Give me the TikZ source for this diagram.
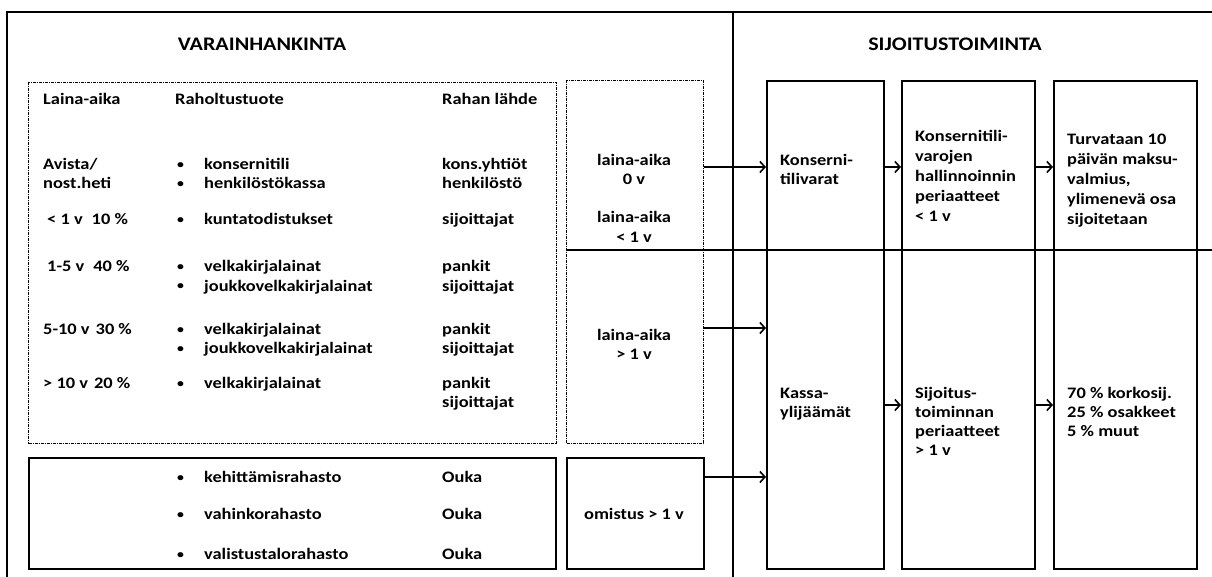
\documentclass[tikz,border=0pt]{standalone}
\usepackage{fontspec}
\setmainfont{Carlito}[FakeStretch=1.15]
\usetikzlibrary{arrows.meta}
\begin{document}
\begin{tikzpicture}[x=1pt,y=-1pt,
  frame/.style={line width=1.8pt},
  dbox/.style={draw,line width=1.3pt,dash pattern=on 3pt off 1pt on 1pt off 1pt,anchor=north west,inner sep=0pt},
  sbox/.style={draw,line width=2pt,anchor=north west,inner sep=0pt},
  arr/.style={line width=1.8pt,-{Straight Barb[length=5pt,width=11pt,line width=1.6pt]}},
  tx/.style={anchor=base west,inner sep=0pt,font=\bfseries\fontsize{16}{19}\selectfont},
  tc/.style={anchor=base,inner sep=0pt,font=\bfseries\fontsize{16}{19}\selectfont},
  bul/.style={anchor=base west,inner sep=0pt,font=\bfseries\fontsize{12}{19}\selectfont},
  ttl/.style={anchor=base,inner sep=0pt,font=\bfseries\fontsize{19.2}{22}\selectfont}
]
\useasboundingbox (0,0) rectangle (1212,577);
% frame
\coordinate (tl) at (7,12);
\coordinate (tr) at (1212,12);
\coordinate (bl) at (7,577);
\coordinate (mt) at (733,12);
\coordinate (mb) at (733,577);
\draw[frame] (bl) -- (tl) -- (tr);
\draw[frame] (mt) -- (mb);
\node[ttl] (t1) at (262,51) {VARAINHANKINTA};
\node[ttl] (t2) at (955,51) {SIJOITUSTOIMINTA};
% boxes
\node[dbox,minimum width=528pt,minimum height=361pt] (big) at (28,82) {};
\node[dbox,minimum width=137pt,minimum height=363pt] (lai) at (566,80) {};
\node[sbox,minimum width=527pt,minimum height=111pt] (low) at (28,457) {};
\node[sbox,minimum width=137pt,minimum height=111pt] (om) at (566,457) {};
\node[sbox,minimum width=117pt,minimum height=488pt] (c1) at (766,80) {};
\node[sbox,minimum width=133pt,minimum height=488pt] (c2) at (901,80) {};
\node[sbox,minimum width=143pt,minimum height=488pt] (c3) at (1053,80) {};
\coordinate (hl) at (566,250);
\coordinate (hr) at (1212,250);
\draw[frame] (hl) -- (hr);
% arrows
\draw[arr] (lai.east |- 0,167) -- (c1.west |- 0,167);
\draw[arr] (lai.east |- 0,328) -- (c1.west |- 0,328);
\draw[arr] (om.east |- 0,477) -- (c1.west |- 0,477);
\draw[arr] (c1.east |- 0,167) -- (c2.west |- 0,167);
\draw[arr] (c2.east |- 0,167) -- (c3.west |- 0,167);
\draw[arr] (c1.east |- 0,405) -- (c2.west |- 0,405);
\draw[arr] (c2.east |- 0,405) -- (c3.west |- 0,405);
% header row
\node[tx] (h1) at (43,105) {Laina-aika};
\node[tx] (h2) at (175,105) {Raholtustuote};
\node[tx] (h3) at (442,105) {Rahan lähde};
% rows
\node[tx] (a1) at (43,170) {Avista/};
\node[tx] (a2) at (43,189) {nost.heti};
\node[tx] (a3) at (47,225) {< 1 v\hspace{9pt}10 \%};
\node[tx] (a4) at (47,272) {1-5 v\hspace{9pt}40 \%};
\node[tx] (a5) at (43,334) {5-10 v\hspace{6pt}30 \%};
\node[tx] (a6) at (43,388) {> 10 v\hspace{6pt}20 \%};
\foreach \y/\t [count=\i] in {170/konsernitili,189/henkilöstökassa,225/kuntatodistukset,272/velkakirjalainat,291/joukkovelkakirjalainat,334/velkakirjalainat,353/joukkovelkakirjalainat,388/velkakirjalainat,482/kehittämisrahasto,519/vahinkorahasto,559/valistustalorahasto}{
  \node[bul] (bu\i) at (177,\y-1) {•};
  \node[tx] (p\i) at (204,\y) {\t};
}
\foreach \y/\t [count=\i] in {170/kons.yhtiöt,189/henkilöstö,225/sijoittajat,272/pankit,291/sijoittajat,334/pankit,353/sijoittajat,388/pankit,407/sijoittajat,482/Ouka,519/Ouka,559/Ouka}{
  \node[tx] (s\i) at (442,\y) {\t};
}
% laina-aika box
\node[tc] (l1) at (634,166) {laina-aika};
\node[tc] (l2) at (634,185) {0 v};
\node[tc] (l3) at (634,223) {laina-aika};
\node[tc] (l4) at (634,243) {< 1 v};
\node[tc] (l5) at (634,340) {laina-aika};
\node[tc] (l6) at (634,359) {> 1 v};
\node[tc] (o1) at (634,519) {omistus > 1 v};
% columns
\foreach \t [count=\i] in {Konserni-,tilivarat}
  \node[tx] (ka\i) at ({780},{166+19*(\i-1)}) {\t};
\foreach \t [count=\i] in {Kassa-,ylijäämät}
  \node[tx] (kb\i) at ({780},{398+19*(\i-1)}) {\t};
\foreach \t [count=\i] in {Konsernitili-,varojen,hallinnoinnin,periaatteet,< 1 v}
  \node[tx] (kc\i) at ({915},{142+20*(\i-1)}) {\t};
\foreach \t [count=\i] in {Sijoitus-,toiminnan,periaatteet,> 1 v}
  \node[tx] (kd\i) at ({915},{398+19*(\i-1)}) {\t};
\foreach \t [count=\i] in {Turvataan 10,päivän maksu-,{valmius,},ylimenevä osa,sijoitetaan}
  \node[tx] (ke\i) at ({1067},{145+20*(\i-1)}) {\t};
\foreach \t [count=\i] in {70 \% korkosij.,25 \% osakkeet,5 \% muut}
  \node[tx] (kf\i) at ({1067},{398+19*(\i-1)}) {\t};
\end{tikzpicture}
\end{document}
